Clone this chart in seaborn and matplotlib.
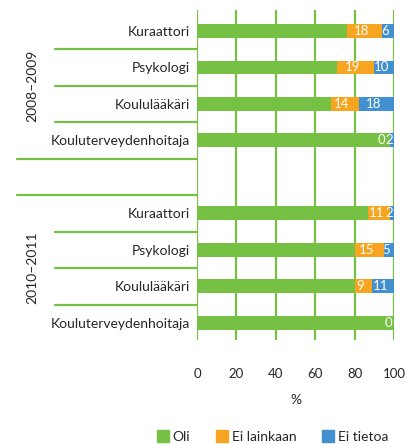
import matplotlib
matplotlib.use("Agg")
import matplotlib.pyplot as plt
import matplotlib.transforms as mtransforms
from matplotlib.lines import Line2D
import seaborn as sns
import pandas as pd
import numpy as np

# ---- data ----
groups = ["2008–2009", "2010–2011"]
categories = ["Kuraattori", "Psykologi", "Koululääkäri", "Kouluterveydenhoitaja"]
oli_2008 = [76, 71, 68, 98]
ei_lainkaan_2008 = [18, 19, 14, 0]
ei_tietoa_2008 = [6, 10, 18, 2]
oli_2010 = [87, 80, 80, 100]
ei_lainkaan_2010 = [11, 15, 9, 0]
ei_tietoa_2010 = [2, 5, 11, 0]
series_names = ["Oli", "Ei lainkaan", "Ei tietoa"]
xticks = [0, 20, 40, 60, 80, 100]

GREEN = "#76c043"
ORANGE = "#f7a520"
BLUE = "#4390d0"
FONT = ["Lato", "DejaVu Sans"]

sns.set_theme(style="white")
plt.rcParams["font.family"] = FONT

rows = []
for g, oli, eil, eit in [(groups[0], oli_2008, ei_lainkaan_2008, ei_tietoa_2008),
                         (groups[1], oli_2010, ei_lainkaan_2010, ei_tietoa_2010)]:
    for c, a, b, d in zip(categories, oli, eil, eit):
        rows.append(dict(key=f"{g}|{c}", group=g, cat=c, oli=a, eil=b, eit=d))
df = pd.DataFrame(rows)
df["c1"] = df["oli"]
df["c2"] = df["oli"] + df["eil"]
df["c3"] = df["oli"] + df["eil"] + df["eit"]

order = [f"{groups[0]}|{c}" for c in categories] + ["__gap__"] + [f"{groups[1]}|{c}" for c in categories]

fig = plt.figure(figsize=(4.19, 4.44), dpi=100)
ax = fig.add_axes([197 / 419, 1 - 340 / 444, 197 / 419, 330 / 444])

# gridlines under bars
for t in xticks:
    ax.axvline(t, color=GREEN, lw=1.6, zorder=0)

bw = 0.38
sns.barplot(data=df, y="key", x="c3", order=order, color=BLUE, width=bw, ax=ax,
            orient="h", saturation=1, zorder=2)
sns.barplot(data=df, y="key", x="c2", order=order, color=ORANGE, width=bw, ax=ax,
            orient="h", saturation=1, zorder=3)
sns.barplot(data=df, y="key", x="c1", order=order, color=GREEN, width=bw, ax=ax,
            orient="h", saturation=1, zorder=4)
for p in ax.patches:
    p.set_edgecolor("none")

ax.set_xlim(0, 100)
ax.set_ylim(8.47, -0.575)

# value labels
FS = 9.5
for _, r in df.iterrows():
    y = order.index(r["key"])
    if r["eil"] == 0 and r["eit"] == 0:
        ax.text(r["c2"] - 0.8, y, "0", color="white", ha="right", va="center", fontsize=FS, zorder=6)
        continue
    # Ei lainkaan
    if r["eil"] == 0:
        ax.text(r["oli"] - 2.5, y, "0", color="white", ha="right", va="center", fontsize=FS, zorder=6)
    else:
        ax.text(r["oli"] + r["eil"] / 2 - 1.5, y, str(r["eil"]), color="white", ha="center",
                va="center", fontsize=FS, zorder=6)
    # Ei tietoa
    if r["eit"] > 0:
        ax.text(r["c2"] + r["eit"] / 2 - 1.5, y, str(r["eit"]), color="white", ha="center",
                va="center", fontsize=FS, zorder=6)

# ticks
ax.set_xticks(xticks)
ax.set_xticklabels([str(t) for t in xticks], fontsize=9.5)
ax.tick_params(axis="x", length=0, pad=20)
ax.set_yticks([order.index(k) for k in order if k != "__gap__"])
ax.set_yticklabels([k.split("|")[1] for k in order if k != "__gap__"], fontsize=10)
ax.tick_params(axis="y", length=0, pad=5)
ax.set_ylabel("")
ax.set_xlabel("%", fontsize=10, labelpad=10)
for s in ax.spines.values():
    s.set_visible(False)

# separator lines
tr = mtransforms.blended_transform_factory(fig.transFigure, ax.transData)
for yb in [0.5, 1.5, 2.5, 5.5, 6.5, 7.5]:
    ax.add_line(Line2D([55 / 419, 197 / 419], [yb, yb], transform=tr, color=GREEN, lw=1.6, clip_on=False))
for yb in [3.5, 4.5]:
    ax.add_line(Line2D([17 / 419, 197 / 419], [yb, yb], transform=tr, color=GREEN, lw=1.6, clip_on=False))

# group labels
ax.text(32 / 419, 1.5, groups[0], transform=tr, rotation=90, ha="center", va="center", fontsize=10)
ax.text(32 / 419, 6.5, groups[1], transform=tr, rotation=90, ha="center", va="center", fontsize=10)

# legend
handles = [Line2D([], [], marker="s", linestyle="none", markersize=8, color=c) for c in (GREEN, ORANGE, BLUE)]
fig.legend(handles, series_names, loc="center", bbox_to_anchor=(272 / 419, 1 - 437 / 444), ncol=3,
           frameon=False, fontsize=10, handletextpad=0.2, columnspacing=1.8, handlelength=1.0)

fig.savefig("out.png", dpi=100)
